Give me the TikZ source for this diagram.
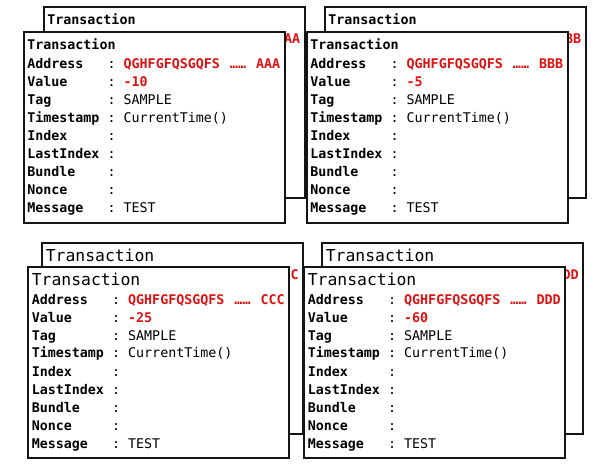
\documentclass[tikz,border=0pt]{standalone}
\usepackage{fontspec}
\setmonofont{DejaVu Sans Mono}
\definecolor{txred}{RGB}{222,18,18}
\definecolor{txline}{RGB}{20,20,20}
\tikzset{
  x=0.75pt, y=-0.75pt,
  cardbox/.style={draw=txline, line width=1.5pt, fill=white, anchor=north west,
    minimum width=195.75pt, minimum height=143.25pt, inner sep=0pt},
  txt/.style={anchor=base west, inner sep=0pt, font=\ttfamily\fontsize{10}{12}\selectfont},
  lbl/.style={txt, font=\ttfamily\bfseries\fontsize{10}{12}\selectfont},
  redval/.style={lbl, text=txred},
  topcard/.code={\def\tx{4}\def\tty{19}\tikzset{ttl/.style={lbl}}},
  botcard/.code={\def\tx{4.5}\def\tty{20}\tikzset{ttl/.style={txt, font=\ttfamily\fontsize{12.3}{14}\selectfont}}},
}
\newcommand\addrtext[1]{QGHFGFQSGQFS\ \makebox[15pt][c]{……}\ #1}
% back card: only the parts that show
\newcommand\txback[5]{%
\begin{scope}[shift={(#2,#3)},#5]
  \node[cardbox] (#1) at (0,0) {};
  \node[ttl] (#1-title) at (\tx,\tty) {Transaction};
  \node[redval] (#1-addr) at ({\tx+96.4},38) {\addrtext{#4}};
\end{scope}}
% front card
\newcommand\txfront[6]{%
\begin{scope}[shift={(#2,#3)},#6]
  \node[cardbox] (#1) at (0,0) {};
  \node[ttl] (#1-title) at (\tx,\tty) {Transaction};
  \foreach \lab [count=\i from 0] in {Address,Value,Tag,Timestamp,Index,LastIndex,Bundle,Nonce,Message}{
    \node[lbl] (#1-l\i) at (\tx,{38+18*\i}) {\lab};
    \node[txt] (#1-c\i) at ({\tx+80.3},{38+18*\i}) {:};
  }
  \node[redval] (#1-addr) at ({\tx+96.4},38) {\addrtext{#4}};
  \node[redval] (#1-val) at ({\tx+96.4},56) {#5};
  \node[txt] (#1-tag) at ({\tx+96.4},74) {SAMPLE};
  \node[txt] (#1-ts) at ({\tx+96.4},92) {CurrentTime()};
  \node[txt] (#1-msg) at ({\tx+96.4},182) {TEST};
\end{scope}}
\begin{document}
\begin{tikzpicture}
  \useasboundingbox (0,0) rectangle (608,467);
  \fill[white] (0,0) rectangle (608,467);
  % back cards
  \txback{ab}{43}{6}{AAA}{topcard}
  \txback{bb}{324}{6}{BBB}{topcard}
  \txback{cb}{41}{242}{CCC}{botcard}
  \txback{db}{321}{242}{DDD}{botcard}
  % front cards
  \txfront{af}{23}{31}{AAA}{-10}{topcard}
  \txfront{bf}{306}{31}{BBB}{-5}{topcard}
  \txfront{cf}{27}{266}{CCC}{-25}{botcard}
  \txfront{df}{303}{266}{DDD}{-60}{botcard}
\end{tikzpicture}
\end{document}
